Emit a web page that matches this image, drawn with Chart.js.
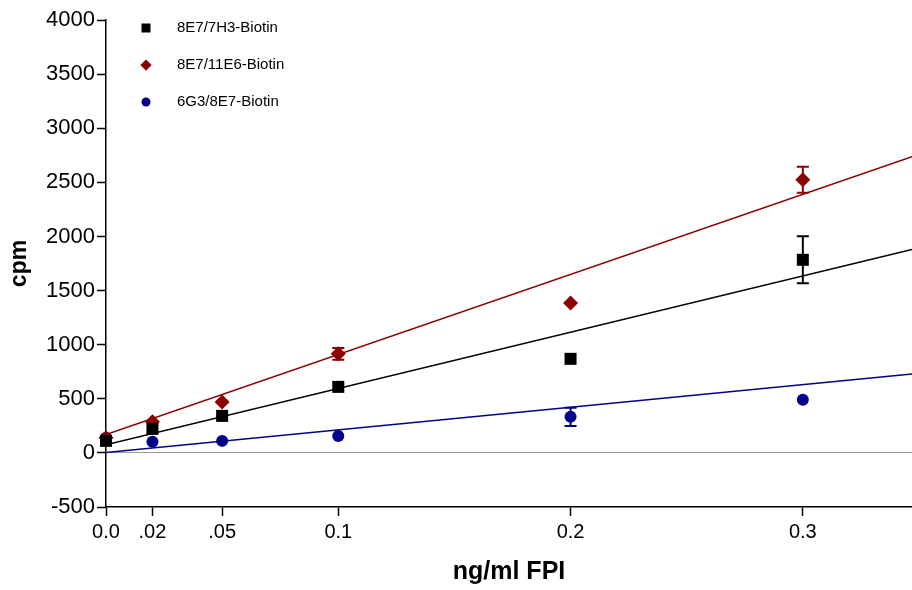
<!DOCTYPE html>
<html>
<head>
<meta charset="utf-8">
<title>cpm vs ng/ml FPI</title>
<script src="https://cdn.jsdelivr.net/npm/chart.js@4"></script>
<style>
  html, body { margin: 0; padding: 0; background: #fff; overflow: hidden; }
  #wrap { width: 912px; height: 590px; position: relative; }
</style>
</head>
<body>
<div id="wrap"><canvas id="chart"></canvas></div>
<script>
// concentrations (ng/ml FPI)
const doses = [0, 0.02, 0.05, 0.1, 0.2, 0.3];
const xTickValues = [0, 0.02, 0.05, 0.1, 0.2, 0.3];
const xTickLabels = ['0.0', '.02', '.05', '0.1', '0.2', '0.3'];

// measured cpm (mean) and error bar half-height
const cpm7H3 = [111, 222, 342, 610, 869, 1784];
const err7H3 = [0, 0, 0, 0, 0, 217];
const cpm11E6 = [139, 287, 471, 915, 1386, 2523];
const err11E6 = [0, 0, 0, 55, 0, 120];
const cpm6G3 = [139, 102, 111, 157, 333, 490];
const err6G3 = [0, 0, 0, 0, 84, 0];

// linear fit lines, read at both ends of the x axis
const fitX = [0, 0.347];
const fit7H3 = [74, 1880];
const fit11E6 = [170, 2736];
const fit6G3 = [3, 730];

const seriesNames = ['8E7/7H3-Biotin', '8E7/11E6-Biotin', '6G3/8E7-Biotin'];
const colors = ['#000000', '#8b0000', '#00008b'];

function pts(xs, ys) {
  return xs.map((x, i) => ({ x, y: ys[i] }));
}

function pointSet(label, ys, errs, color, style, radius) {
  return {
    type: 'scatter',
    label,
    data: pts(doses, ys),
    errors: errs,
    backgroundColor: color,
    borderColor: color,
    pointStyle: style,
    pointRadius: radius,
    pointBorderWidth: 0,
    clip: false,
    order: 1
  };
}

function fitSet(ys, color) {
  return {
    type: 'line',
    label: '',
    isFit: true,
    data: pts(fitX, ys),
    borderColor: color,
    borderWidth: 1.5,
    pointRadius: 0,
    fill: false,
    order: 2
  };
}

// vertical error bars with caps
const errorBars = {
  id: 'errorBars',
  afterDatasetsDraw(chart) {
    const { ctx, scales: { x, y } } = chart;
    ctx.save();
    chart.data.datasets.forEach(ds => {
      if (!ds.errors) return;
      ctx.strokeStyle = ds.borderColor;
      ctx.lineWidth = 2;
      ds.data.forEach((p, i) => {
        const e = ds.errors[i];
        if (!e) return;
        const px = x.getPixelForValue(p.x);
        const top = y.getPixelForValue(p.y + e);
        const bot = y.getPixelForValue(p.y - e);
        ctx.beginPath();
        ctx.moveTo(px, top); ctx.lineTo(px, bot);
        ctx.moveTo(px - 6, top); ctx.lineTo(px + 6, top);
        ctx.moveTo(px - 6, bot); ctx.lineTo(px + 6, bot);
        ctx.stroke();
      });
    });
    ctx.restore();
  }
};

// legend drawn inside the plot, top left
const innerLegend = {
  id: 'innerLegend',
  afterDraw(chart) {
    const { ctx } = chart;
    ctx.save();
    ctx.font = '15px "Liberation Sans", Arial, sans-serif';
    ctx.textBaseline = 'middle';
    chart.data.datasets.filter(d => !d.isFit).forEach((ds, i) => {
      const cy = 28 + i * 37;
      ctx.fillStyle = ds.backgroundColor;
      Chart.helpers.drawPoint(ctx, {
        pointStyle: ds.pointStyle,
        radius: ds.pointRadius * 0.75,
        borderWidth: 0
      }, 146, cy);
      ctx.fillStyle = '#000';
      ctx.fillText(ds.label, 177, cy);
    });
    ctx.restore();
  }
};

const tickFontX = { family: '"Liberation Sans", Arial, sans-serif', size: 20 };
const tickFontY = { family: '"Liberation Sans", Arial, sans-serif', size: 22 };
const titleFontX = { family: '"Liberation Sans", Arial, sans-serif', size: 25, weight: 'bold' };
const titleFontY = { family: '"Liberation Sans", Arial, sans-serif', size: 23, weight: 'bold' };

new Chart(document.getElementById('chart'), {
  data: {
    datasets: [
      pointSet(seriesNames[0], cpm7H3, err7H3, colors[0], 'rect', 8.5),
      pointSet(seriesNames[1], cpm11E6, err11E6, colors[1], 'rectRot', 7.5),
      pointSet(seriesNames[2], cpm6G3, err6G3, colors[2], 'circle', 6),
      fitSet(fit7H3, colors[0]),
      fitSet(fit11E6, colors[1]),
      fitSet(fit6G3, colors[2])
    ]
  },
  options: {
    responsive: true,
    maintainAspectRatio: false,
    animation: false,
    layout: { autoPadding: false, padding: { top: 20, right: 0, left: 0, bottom: 0 } },
    plugins: {
      legend: { display: false },
      tooltip: { enabled: false }
    },
    scales: {
      x: {
        type: 'linear',
        min: 0,
        max: 0.347,
        afterBuildTicks: s => { s.ticks = xTickValues.map(v => ({ value: v })); },
        afterFit: s => { s.height = 83; s.paddingRight = 0; },
        ticks: {
          color: '#000',
          font: tickFontX,
          padding: 4,
          maxRotation: 0,
          autoSkip: false,
          callback: v => xTickLabels[xTickValues.indexOf(v)]
        },
        grid: { color: 'rgba(0,0,0,0)', tickColor: '#000', tickLength: 9, tickWidth: 1.5 },
        border: { color: '#000', width: 1.5 },
        title: { display: true, text: 'ng/ml FPI', color: '#000', font: titleFontX, padding: { top: 5, bottom: 3 } }
      },
      y: {
        type: 'linear',
        min: -500,
        max: 4000,
        afterFit: s => { s.width = 106; },
        ticks: { stepSize: 500, color: '#000', font: tickFontY, padding: 2, callback: v => String(v) },
        grid: {
          color: c => (c.tick && c.tick.value === 0 ? '#999' : 'rgba(0,0,0,0)'),
          tickColor: '#000',
          tickLength: 9,
          lineWidth: 1,
          tickWidth: 1.5
        },
        border: { color: '#000', width: 1.5 },
        title: { display: true, text: 'cpm', color: '#000', font: titleFontY, padding: { top: 6, bottom: 0 } }
      }
    }
  },
  plugins: [errorBars, innerLegend]
});
</script>
</body>
</html>
